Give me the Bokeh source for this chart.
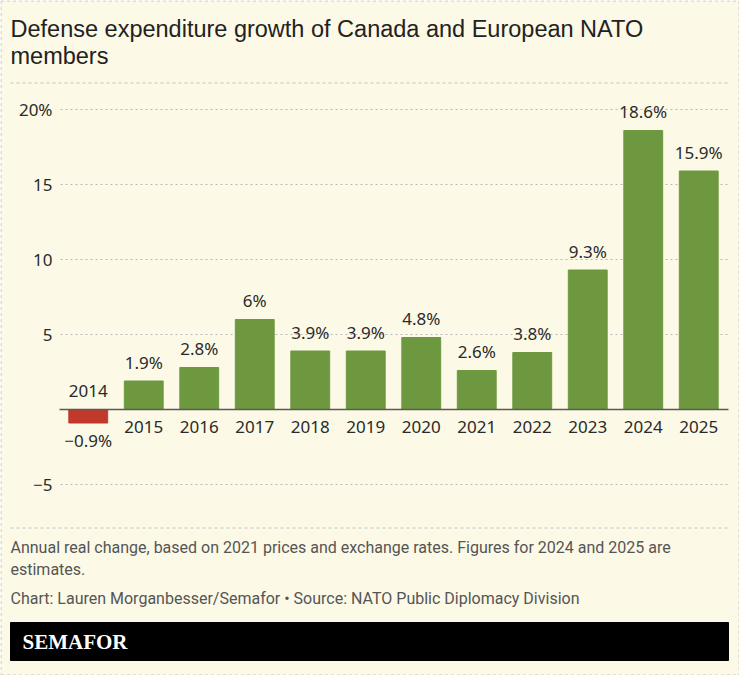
from bokeh.plotting import figure
from bokeh.models import ColumnDataSource, Range1d, Label
from bokeh.core.properties import value
from bokeh.embed import file_html
from bokeh.resources import INLINE

years = ["2014", "2015", "2016", "2017", "2018", "2019", "2020", "2021", "2022", "2023", "2024", "2025"]
growth = [-0.9, 1.9, 2.8, 6.0, 3.9, 3.9, 4.8, 2.6, 3.8, 9.3, 18.6, 15.9]
value_labels = ["\u22120.9%", "1.9%", "2.8%", "6%", "3.9%", "3.9%", "4.8%", "2.6%", "3.8%", "9.3%", "18.6%", "15.9%"]
y_ticks = [-5, 5, 10, 15, 20]
y_tick_labels = ["\u22125", "5", "10", "15", "20%"]

title_lines = ["Defense expenditure growth of Canada and European NATO", "members"]
note_lines = ["Annual real change, based on 2021 prices and exchange rates. Figures for 2024 and 2025 are",
              "estimates."]
credit = "Chart: Lauren Morganbesser/Semafor \u2022 Source: NATO Public Diplomacy Division"

BG = "#FCF9E6"
GREEN = "#6E983F"
RED = "#C0392B"
TXT = "#2a2a2a"
MUTED = "#555555"
DASH = "#c4c4c4"
FONT = "Noto Sans"

W, H = 739, 675
PLOT_L, PLOT_R = 60, 726        # pixel extent of the 12 category bands
BAND = (PLOT_R - PLOT_L) / len(years)
ZERO_PX = 409
PX_PER_UNIT = 15.0

# pixel -> data helpers (layout only)
X0 = -0.5 - PLOT_L / BAND


def dx(cx):
    return X0 + cx / BAND


def dy(cy):
    return (ZERO_PX - cy) / PX_PER_UNIT


xpos = list(range(len(years)))
colors = [RED if v < 0 else GREEN for v in growth]
val_off = [17 if v < 0 else -19 for v in growth]
yr_off = [-19 if v < 0 else 17 for v in growth]
src = ColumnDataSource(dict(x=xpos, year=years, v=growth, c=colors, lab=value_labels,
                            zero=[0] * len(years), val_off=val_off, yr_off=yr_off))

p = figure(width=W, height=H, x_range=Range1d(dx(0), dx(W)), y_range=Range1d(dy(H), dy(0)),
           x_axis_location=None, y_axis_location=None, output_backend="svg",
           toolbar_location=None, title=None, min_border=0)
p.background_fill_color = BG
p.border_fill_color = BG
p.outline_line_color = None
p.xgrid.visible = False
p.ygrid.visible = False

# outer dashed frame
p.segment(x0=[dx(0.5), dx(0.5), dx(738.5), dx(0.5)], y0=[dy(0.5), dy(0.5), dy(0.5), dy(674.5)],
          x1=[dx(738.5), dx(0.5), dx(738.5), dx(738.5)], y1=[dy(0.5), dy(674.5), dy(674.5), dy(674.5)],
          line_color=DASH, line_dash="3 3", line_width=1)

# header
for t, cy in zip(title_lines, [28, 55]):
    p.add_layout(Label(x=dx(10), y=dy(cy), text=t, text_font="Liberation Sans", text_font_size="23.5px",
                       text_color="#222222", text_baseline="middle", text_align="left"))
p.segment(x0=[dx(10), dx(10)], y0=[dy(82.5), dy(527.5)], x1=[dx(728), dx(728)], y1=[dy(82.5), dy(527.5)],
          line_color=DASH, line_dash="3 3", line_width=1)

# grid + y tick labels
p.segment(x0=[dx(PLOT_L)] * len(y_ticks), y0=y_ticks, x1=[dx(728)] * len(y_ticks), y1=y_ticks,
          line_color="#b8b8b8", line_dash="2 3", line_width=1)
p.text(x=[dx(52)] * len(y_ticks), y=y_ticks, text=y_tick_labels, text_align="right",
       text_baseline="middle", text_font=value(FONT), text_font_size="17px", text_color=TXT)

# bars
p.vbar(x="x", top="v", bottom=0, width=0.7, color="c", source=src)
p.segment(x0=[dx(59)], y0=[0], x1=[dx(728)], y1=[0], line_color="#5a5a5a", line_width=1.5)

p.text(x="x", y="v", text="lab", y_offset="val_off", source=src,
       text_align="center", text_baseline="alphabetic", text_font=value(FONT),
       text_font_size="17px", text_color=TXT)
p.text(x="x", y="zero", text="year", y_offset="yr_off", source=src,
       text_align="center", text_baseline="alphabetic", text_font=value(FONT),
       text_font_size="17px", text_color=TXT)

# footer
for t, cy in zip(note_lines, [547, 569]):
    p.add_layout(Label(x=dx(10), y=dy(cy), text=t, text_font="Roboto", text_font_size="16px",
                       text_color=MUTED, text_baseline="middle", text_align="left"))
p.add_layout(Label(x=dx(10), y=dy(598), text=credit, text_font="Roboto", text_font_size="16px",
                   text_color=MUTED, text_baseline="middle", text_align="left"))
p.quad(left=[dx(10)], right=[dx(728)], top=[dy(622)], bottom=[dy(660)], fill_color="#000000",
       line_color="#000000")
p.add_layout(Label(x=dx(22), y=dy(641), text="SEMAFOR", text_font="Liberation Serif", text_font_size="21px",
                   text_font_style="bold", text_color="#ffffff", text_baseline="middle", text_align="left"))

open("out.html", "w").write(file_html(p, INLINE))
